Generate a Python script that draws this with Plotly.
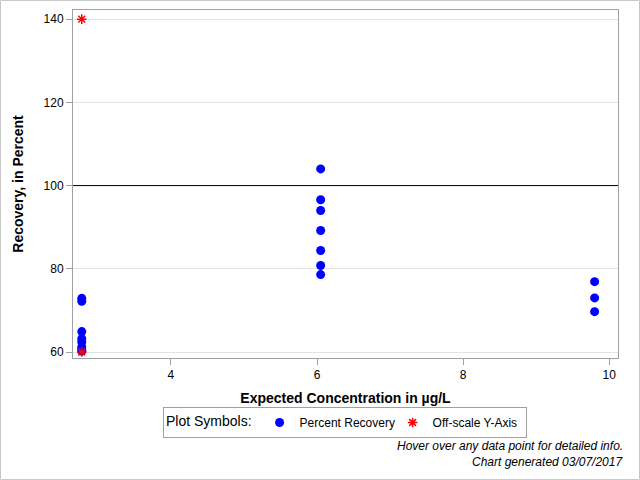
import plotly.graph_objects as go

# Data
recovery_x = [2.78]*8 + [6.05]*7 + [9.8]*3
recovery_y = [72.9, 72.2, 64.9, 63.2, 62.4, 61.2, 60.6, 60.2,
              104.0, 96.6, 94.0, 89.2, 84.4, 80.8, 78.6,
              76.9, 73.0, 69.7]
offscale_x = [2.78, 2.78]
offscale_y = [140, 60]
reference_y = 100
x_ticks = [4, 6, 8, 10]
y_ticks = [60, 80, 100, 120, 140]

FONT = "Liberation Sans, Arial, sans-serif"

fig = go.Figure()
fig.add_trace(go.Scatter(x=recovery_x, y=recovery_y, mode="markers",
                         name="Percent Recovery",
                         marker=dict(color="#0000ff", size=9, symbol="circle")))
fig.add_trace(go.Scatter(x=offscale_x, y=offscale_y, mode="markers",
                         name="Off-scale Y-Axis",
                         marker=dict(color="#ff0000", size=8, symbol="asterisk-open",
                                     line=dict(color="#ff0000", width=1.5))))

L, R, T, B = 73, 22, 10, 122
W, H = 640, 480
pw, ph = W - L - R, H - T - B

def px(x):
    return (x - L) / pw

def py(y):
    return (H - B - y) / ph

fig.add_shape(type="line", xref="paper", yref="y", x0=0, x1=1,
              y0=reference_y, y1=reference_y, line=dict(color="black", width=1))
fig.add_shape(type="rect", xref="paper", yref="paper",
              x0=px(0.5), x1=px(639.5), y0=py(0.5), y1=py(479.5),
              line=dict(color="#c8c8c8", width=1), layer="below")

fig.update_layout(
    width=W, height=H,
    margin=dict(l=L, r=R, t=T, b=B, pad=0),
    paper_bgcolor="white", plot_bgcolor="white",
    font=dict(family=FONT, size=12, color="#000000"),
    showlegend=True,
    legend=dict(orientation="h", x=px(345), xanchor="center", y=py(422.5), yanchor="middle",
                bordercolor="#a0a0a0", borderwidth=1, bgcolor="white",
                title=dict(text="Plot Symbols:", side="left"),
                font=dict(size=12), itemwidth=30, tracegroupgap=0,
                entrywidth=88, entrywidthmode="pixels"),
    xaxis=dict(range=[2.66, 10.12], tickvals=x_ticks, showgrid=False,
               ticks="outside", ticklen=6, tickcolor="#a0a0a0",
               showline=True, linecolor="#a0a0a0", mirror=True, zeroline=False,
               title=dict(text="<b>Expected Concentration in µg/L</b>",
                          font=dict(size=14), standoff=11)),
    yaxis=dict(range=[58.56, 142.2], tickvals=y_ticks, showgrid=True,
               gridcolor="#e4e4e4", ticks="outside", ticklen=6, tickcolor="#a0a0a0",
               showline=True, linecolor="#a0a0a0", mirror=True, zeroline=False,
               title=dict(text="<b>Recovery, in Percent</b>",
                          font=dict(size=14), standoff=16)),
    annotations=[
        dict(text="<i>Hover over any data point for detailed info.</i>",
             xref="paper", yref="paper", x=px(625), y=py(446),
             xanchor="right", yanchor="middle", showarrow=False, font=dict(size=12)),
        dict(text="<i>Chart generated 03/07/2017</i>",
             xref="paper", yref="paper", x=px(625), y=py(462),
             xanchor="right", yanchor="middle", showarrow=False, font=dict(size=12)),
    ],
)

fig.write_html("out.html", config={"displayModeBar": False},
               post_script="document.body.style.margin='0';")
